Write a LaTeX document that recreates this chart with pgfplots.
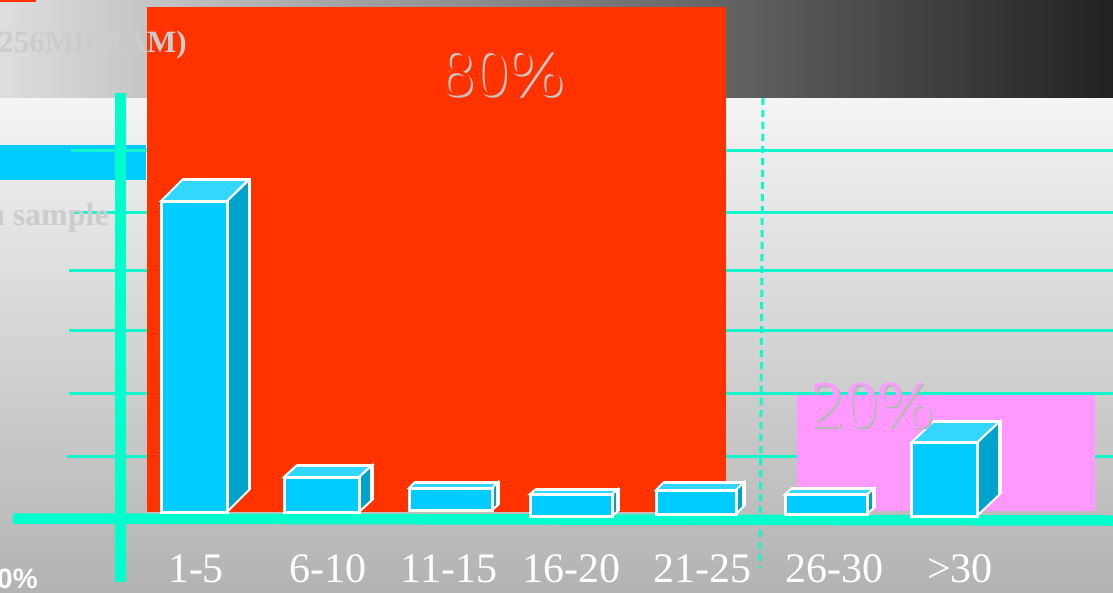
\documentclass[border=0pt]{standalone}
\usepackage{fontspec}
\setmainfont{Liberation Serif}
\newfontfamily\labelsans{Liberation Sans}
\usepackage{pgfplots}
\pgfplotsset{compat=1.18}
\definecolor{gridc}{RGB}{20,245,205}
\definecolor{axisc}{RGB}{0,255,204}
\definecolor{redc}{RGB}{255,51,0}
\definecolor{pinkc}{RGB}{255,153,255}
\definecolor{front}{RGB}{0,204,255}
\definecolor{topc}{RGB}{51,214,255}
\definecolor{sidec}{RGB}{0,163,204}
\pgfplotsset{
  rect/.style={draw=none,fill=#1,forget plot},
  grid line/.style={gridc,line width=3pt,forget plot},
  frontface/.style={fill=front,draw=white,line width=3pt,line join=miter,forget plot},
  topface/.style={fill=topc,draw=white,line width=2pt,line join=miter,forget plot},
  sideface/.style={fill=sidec,draw=white,line width=2pt,line join=miter,forget plot},
  backedge/.style={white,line width=3.5pt,line join=miter,forget plot},
}
\begin{document}
\begin{tikzpicture}[x=1pt,y=1pt]
\useasboundingbox (0,0) rectangle (1113,592);
\begin{axis}[
  at={(0,0)},anchor=south west,
  scale only axis,width=1113pt,height=592pt,
  xmin=0,xmax=1113,ymin=0,ymax=592,y dir=reverse,
  axis on top,
  axis line style={draw=none},
  tick style={draw=none},
  ytick=\empty,
  xtick={196,328,449,571,702,834,960},
  xticklabels={1-5,6-10,11-15,16-20,21-25,26-30,{>30}},
  xticklabel pos=left,
  xticklabel style={font=\fontsize{42}{42}\selectfont,text=white,anchor=base,yshift=10pt},
  typeset ticklabels with strut=false,
  clip=true,
]
% backgrounds
\path[left color=black!13,right color=black!87,shading angle=90] (axis cs:0,0) rectangle (axis cs:1113,98);
\path[top color=black!4,bottom color=black!30] (axis cs:0,98) rectangle (axis cs:1113,592);
\addplot[rect=redc] coordinates {(0,0) (36,0) (36,2) (0,2)} -- cycle;
\addplot[rect=front] coordinates {(0,145) (146,145) (146,180) (0,180)} -- cycle;
% grid lines
\addplot[grid line] coordinates {(71,150) (1113,150)};
\addplot[grid line] coordinates {(70,212) (1113,212)};
\addplot[grid line] coordinates {(69,270) (1113,270)};
\addplot[grid line] coordinates {(69,330) (1113,330)};
\addplot[grid line] coordinates {(69,393.5) (1113,393.5)};
\addplot[grid line] coordinates {(67,456) (1113,456)};
\addplot[gridc,line width=3pt,dash pattern=on 7pt off 5pt,forget plot] coordinates {(763,98) (760,568)};
% highlight panels
\addplot[rect=redc] coordinates {(146.5,6.5) (726,6.5) (726,511.5) (146.5,511.5)} -- cycle;
\addplot[rect=pinkc] coordinates {(797,395) (1095,395) (1095,511) (797,511)} -- cycle;
% axes
\addplot[axisc,line width=11pt,forget plot] coordinates {(120.5,93) (120.5,582)};
\addplot[axisc,line width=10.5pt,forget plot] coordinates {(13,518.5) (1113,520.5)};
% bar 1-5
\addplot[sideface] coordinates {(227,201) (249,180) (249,490) (227,512)} -- cycle;
\addplot[topface] coordinates {(161,201) (183,179) (249,179) (227,201)} -- cycle;
\addplot[backedge] coordinates {(183,179.5) (249.5,179.5) (249.5,490)};
\addplot[frontface] coordinates {(161.5,201) (227,201) (227,512.5) (161.5,512.5)} -- cycle;
% bar 6-10
\addplot[sideface] coordinates {(359,477) (372,465) (372,500) (359,512)} -- cycle;
\addplot[topface] coordinates {(284,477) (297,465) (372,465) (359,477)} -- cycle;
\addplot[backedge] coordinates {(297,465.5) (372,465.5) (372,500)};
\addplot[frontface] coordinates {(284,477) (359,477) (359,512.5) (284,512.5)} -- cycle;
% bar 11-15
\addplot[sideface] coordinates {(492,488) (498,482) (498,505) (492,510)} -- cycle;
\addplot[topface] coordinates {(409,488) (415,482) (498,482) (492,488)} -- cycle;
\addplot[backedge] coordinates {(415,482.5) (498,482.5) (498,505)};
\addplot[frontface] coordinates {(409,488) (492,488) (492,510.5) (409,510.5)} -- cycle;
% bar 16-20
\addplot[sideface] coordinates {(612,494) (618,489) (618,511) (612,516)} -- cycle;
\addplot[topface] coordinates {(530,494) (536,489) (618,489) (612,494)} -- cycle;
\addplot[backedge] coordinates {(536,489.5) (618,489.5) (618,511)};
\addplot[frontface] coordinates {(530,494) (612,494) (612,516) (530,516)} -- cycle;
% bar 21-25
\addplot[sideface] coordinates {(736,490) (744,482) (744,506) (736,514)} -- cycle;
\addplot[topface] coordinates {(656,490) (664,482) (744,482) (736,490)} -- cycle;
\addplot[backedge] coordinates {(664,482.5) (744,482.5) (744,506)};
\addplot[frontface] coordinates {(656,490) (736,490) (736,514) (656,514)} -- cycle;
% bar 26-30
\addplot[sideface] coordinates {(867,494.5) (874,488) (874,508) (867,514)} -- cycle;
\addplot[topface] coordinates {(785,494.5) (792,488) (874,488) (867,494.5)} -- cycle;
\addplot[backedge] coordinates {(792,488.5) (874,488.5) (874,508)};
\addplot[frontface] coordinates {(785,494.5) (867,494.5) (867,514.5) (785,514.5)} -- cycle;
% bar >30
\addplot[sideface] coordinates {(977,442.5) (1000,421) (1000,494) (977,516)} -- cycle;
\addplot[topface] coordinates {(911.5,442.5) (934,421) (1000,421) (977,442.5)} -- cycle;
\addplot[backedge] coordinates {(934,421.5) (1000,421.5) (1000,494)};
\addplot[frontface] coordinates {(911.5,442.5) (977,442.5) (977,516) (911.5,516)} -- cycle;
% texts
\node[anchor=base east,text=black!20,font=\bfseries\fontsize{31}{31}\selectfont,inner sep=0pt] at (axis cs:187,52) {256MB RAM)};
\node[anchor=base east,text=black!20,font=\bfseries\fontsize{32}{32}\selectfont,inner sep=0pt] at (axis cs:109,225) {n sample};
\node[anchor=base west,text=white,font=\labelsans\bfseries\fontsize{28}{28}\selectfont,inner sep=0pt] at (axis cs:-3,588) {0\%};
\node[anchor=base,text=black!22,font=\fontsize{67}{67}\selectfont,inner sep=0pt] at (axis cs:504,97) {80\%};
\node[anchor=base,text=redc,font=\fontsize{67}{67}\selectfont,inner sep=0pt] at (axis cs:502,95) {80\%};
\node[anchor=base,text=black!28,font=\fontsize{67}{67}\selectfont,inner sep=0pt] at (axis cs:874,429) {20\%};
\node[anchor=base,text=pinkc,font=\fontsize{67}{67}\selectfont,inner sep=0pt] at (axis cs:872,427) {20\%};
\end{axis}
\end{tikzpicture}
\end{document}
